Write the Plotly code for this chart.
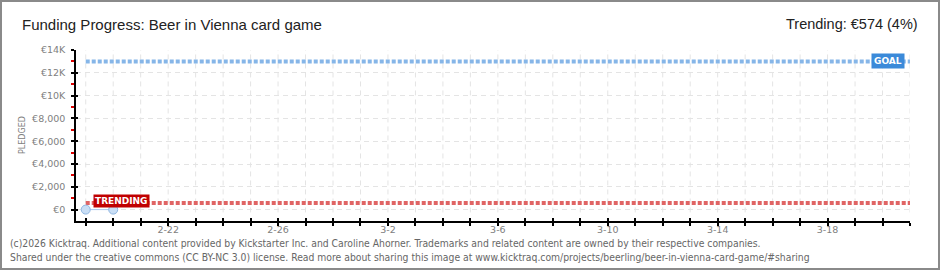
import plotly.graph_objects as go
import datetime as dt

# ---- data ----
dates = ["2026-02-19", "2026-02-20"]
pledged = [0, 0]
goal = 13000
trending = 574
x_start = "2026-02-19"
x_end = "2026-03-21"
y_ticks = [0, 2000, 4000, 6000, 8000, 10000, 12000, 14000]
y_labels = ["€0", "€2,000", "€4,000", "€6,000", "€8,000", "€10K", "€12K", "€14K"]
y_minor = [1000, 3000, 5000, 7000, 9000, 11000, 13000]
x_label_days = ["2026-02-22", "2026-02-26", "2026-03-02", "2026-03-06", "2026-03-10", "2026-03-14", "2026-03-18"]

W, H = 940, 270
L, R, T, B = 76, 30, 50, 49
pw, ph = W - L - R, H - T - B

d0 = dt.date.fromisoformat(x_start)
d1 = dt.date.fromisoformat(x_end)
all_days = [(d0 + dt.timedelta(days=i)).isoformat() for i in range((d1 - d0).days + 1)]
def fmt(d):
    dd = dt.date.fromisoformat(d)
    return f"{dd.month}-{dd.day}"
x_text = [fmt(d) if d in x_label_days else "" for d in all_days]
x_lo = (dt.datetime.fromisoformat(x_start) - dt.timedelta(hours=8.5)).isoformat()

fig = go.Figure()
# vertical day gridlines (stop just below zero like the reference)
for d in all_days:
    fig.add_shape(type="line", xref="x", yref="y", x0=d, x1=d, y0=-250, y1=14000,
                  line=dict(color="#e4e4e4", width=1, dash="5px,4px"), layer="below")

fig.add_trace(go.Scatter(x=[x_start, x_end], y=[goal, goal], mode="lines",
                         line=dict(color="#86b6e8", width=4, dash="4px,2px"), hoverinfo="skip"))
fig.add_trace(go.Scatter(x=[x_start, x_end], y=[trending, trending], mode="lines",
                         line=dict(color="#e06464", width=4, dash="4px,2px"), hoverinfo="skip"))
fig.add_trace(go.Scatter(x=dates, y=pledged, mode="lines+markers",
                         line=dict(color="#a9c9ee", width=1),
                         marker=dict(size=9, color="#c9def5", line=dict(color="#8fb6e2", width=1))))
# helper invisible trace for overlay axes
fig.add_trace(go.Scatter(x=[x_start], y=[0], xaxis="x2", yaxis="y2", mode="markers",
                         marker=dict(opacity=0), hoverinfo="skip"))

tickfont = dict(family="DejaVu Sans", size=9.5, color="#808080")
fig.update_layout(
    width=W, height=H, margin=dict(l=L, r=R, t=T, b=B),
    paper_bgcolor="white", plot_bgcolor="white", showlegend=False,
    xaxis=dict(type="date", range=[x_lo, x_end], tickmode="array", tickvals=all_days, ticktext=x_text,
               ticks="outside", ticklen=3, tickcolor="black", tickwidth=1.5,
               showline=True, linecolor="black", linewidth=1.5,
               showgrid=False, ticklabelstandoff=-4,
               tickfont=tickfont, zeroline=False),
    yaxis=dict(range=[-1000, 14000], tickmode="array", tickvals=y_ticks, ticktext=y_labels,
               ticks="outside", ticklen=3, tickcolor="black", tickwidth=1.5,
               showline=True, linecolor="black", linewidth=1.5,
               showgrid=True, gridcolor="#e4e4e4", griddash="5px,4px", gridwidth=1,
               tickfont=tickfont, zeroline=False, ticklabelstandoff=4,
               minor=dict(tickmode="array", tickvals=y_minor, ticks="outside", ticklen=3,
                          tickcolor="#dd0000", tickwidth=1.5, showgrid=False)),
    xaxis2=dict(type="date", range=[x_lo, x_end], overlaying="x", anchor="y2", tickmode="array",
                tickvals=all_days, ticks="inside", ticklen=3, tickcolor="black", tickwidth=1.5,
                showticklabels=False, showgrid=False, showline=False, zeroline=False),
    yaxis2=dict(range=[-1000, 14000], overlaying="y", anchor="x2", tickmode="array",
                tickvals=y_ticks, ticks="inside", ticklen=2, tickcolor="black", tickwidth=1.5,
                showticklabels=False, showgrid=False, showline=False, zeroline=False),
)

def px_x(p):
    return (p - L) / pw
def px_y(p):
    return 1 - (p - T) / ph

fig.add_shape(type="rect", xref="paper", yref="paper",
              x0=px_x(1), x1=px_x(939), y0=px_y(269), y1=px_y(1),
              line=dict(color="#8a8a8a", width=2), fillcolor="rgba(0,0,0,0)", layer="below")

fig.add_annotation(xref="paper", yref="paper", x=px_x(20), y=px_y(24), xanchor="left", yanchor="middle",
                   text="Funding Progress: Beer in Vienna card game", showarrow=False,
                   font=dict(family="Liberation Sans", size=15, color="#222222"))
fig.add_annotation(xref="paper", yref="paper", x=px_x(920), y=px_y(24), xanchor="right", yanchor="middle",
                   text="Trending: €574 (4%)", showarrow=False,
                   font=dict(family="Liberation Sans", size=14.5, color="#222222"))
fig.add_annotation(xref="paper", yref="paper", x=px_x(22), y=px_y(135), xanchor="center", yanchor="middle",
                   text="PLEDGED", textangle=-90, showarrow=False,
                   font=dict(family="DejaVu Sans", size=8, color="#808080"))
fig.add_annotation(xref="paper", yref="paper", x=px_x(8), y=px_y(243), xanchor="left", yanchor="middle",
                   text="(c)2026 Kicktraq. Additional content provided by Kickstarter Inc. and Caroline Ahorner. Trademarks and related content are owned by their respective companies.",
                   showarrow=False, font=dict(family="DejaVu Sans Condensed", size=10.3, color="#666666"))
fig.add_annotation(xref="paper", yref="paper", x=px_x(8), y=px_y(257), xanchor="left", yanchor="middle",
                   text="Shared under the creative commons (CC BY-NC 3.0) license. Read more about sharing this image at www.kicktraq.com/projects/beerling/beer-in-vienna-card-game/#sharing",
                   showarrow=False, font=dict(family="DejaVu Sans Condensed", size=10.3, color="#666666"))

# GOAL / TRENDING badges
fig.add_annotation(x=x_end, y=goal, xanchor="right", yanchor="middle", xshift=-5,
                   text="<b>GOAL</b>", showarrow=False, bgcolor="#3b8ad9", borderpad=2,
                   font=dict(family="DejaVu Sans", size=9, color="white"))
fig.add_annotation(x=x_start, y=trending, xanchor="left", yanchor="middle", xshift=7, yshift=2,
                   text="<b>TRENDING</b>", showarrow=False, bgcolor="#c00000", borderpad=1,
                   font=dict(family="DejaVu Sans", size=9, color="white"))

fig.write_html("out.html")
